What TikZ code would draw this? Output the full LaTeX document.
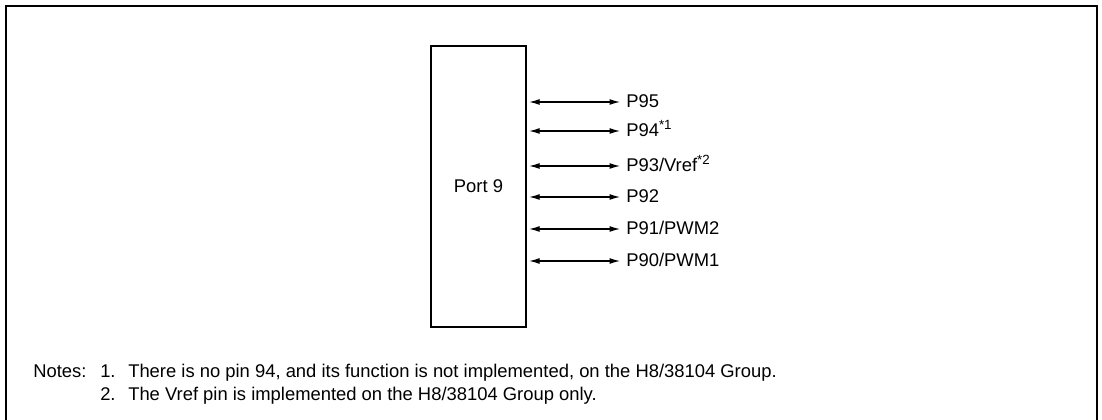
\documentclass[tikz,border=0pt]{standalone}
\usepackage{fontspec}
\setmainfont{Liberation Sans}
\usetikzlibrary{arrows.meta,calc}
\newcommand{\starnote}[1]{\raisebox{0.42em}{\fontsize{10}{10}\selectfont *#1}}
\begin{document}
\begin{tikzpicture}[x=0.75pt,y=-0.75pt,
  every node/.style={font=\fontsize{13.8}{16}\selectfont},
  frame/.style={line width=1.8pt},
  portbox/.style={draw,line width=1.8pt,rectangle,minimum width=95*0.75pt,minimum height=281*0.75pt,inner sep=0pt},
  biarrow/.style={line width=0.9pt,{Latex[length=10.5pt*0.75,width=6*0.75pt]}-{Latex[length=10.5pt*0.75,width=6*0.75pt]}},
  pinlabel/.style={anchor=west,inner sep=0pt,text height=12*0.75pt,text depth=0pt},
  notetext/.style={anchor=base west,inner sep=0pt}]
\useasboundingbox (0,0) rectangle (1102,420);
\draw[frame] (6,425) -- (6,6) -- (1097,6) -- (1097,425);
\node[portbox] (port) at (478.5,186.5) {Port 9};
\node[pinlabel] (l95) at (626,102) {P95};
\node[pinlabel] (l94) at (626,131) {P94\starnote{1}};
\node[pinlabel] (l93) at (626,166) {P93/Vref\starnote{2}};
\node[pinlabel] (l92) at (626,197) {P92};
\node[pinlabel] (l91) at (626,229) {P91/PWM2};
\node[pinlabel] (l90) at (626,261) {P90/PWM1};
\foreach \n in {95,94,93,92,91,90}{
  \draw[biarrow] ([xshift=1.5pt]port.east |- l\n.west) -- ([xshift=-4.5pt]l\n.west);
}
\node[notetext] (notes) at (33,377) {Notes:};
\node[notetext] (n1) at (100,377) {1.};
\node[notetext] (t1) at (128,377) {There is no pin 94, and its function is not implemented, on the H8/38104 Group.};
\node[notetext] (n2) at (100,400) {2.};
\node[notetext] (t2) at (128,400) {The Vref pin is implemented on the H8/38104 Group only.};
\end{tikzpicture}
\end{document}
